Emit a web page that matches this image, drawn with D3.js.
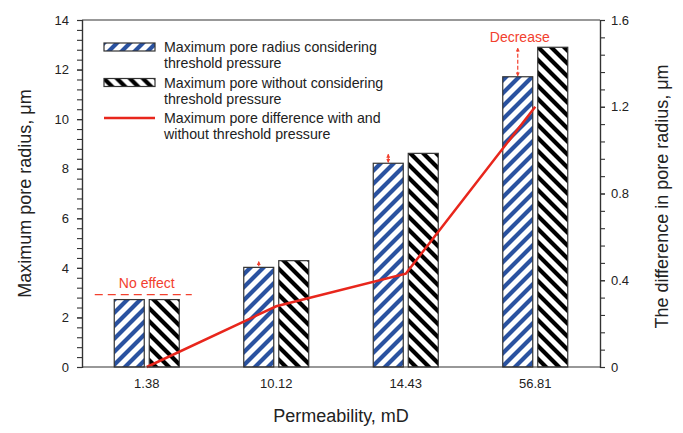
<!DOCTYPE html>
<html>
<head>
<meta charset="utf-8">
<script src="https://cdn.jsdelivr.net/npm/d3@7"></script>
<style>
  body { margin: 0; background: #fff; }
  svg { display: block; font-family: 'Liberation Sans', Arial, sans-serif; }
</style>
</head>
<body>
<svg id="chart" width="683" height="433"></svg>
<script>
/* data */
const permeability = ['1.38', '10.12', '14.43', '56.81'];
const withThreshold = [2.72, 4.02, 8.22, 11.71];
const withoutThreshold = [2.72, 4.29, 8.62, 12.9];
const poreDifference = [0, 0.28, 0.43, 1.2];
const leftTicks = [0, 2, 4, 6, 8, 10, 12, 14];
const rightTicks = [0, 0.4, 0.8, 1.2, 1.6];

const width = 683;
const height = 433;
const margin = { top: 20, right: 83, bottom: 66, left: 82 };
const innerW = width - margin.left - margin.right;
const innerH = height - margin.top - margin.bottom;

const blue = '#2a52a0';
const red = '#e8261c';
const annoRed = '#f2402e';
const textColor = '#222';

const svg = d3.select('#chart');

/* hatch patterns */
const defs = svg.append('defs');
function hatch(id, color, forward) {
  const s = 13;
  const p = defs.append('pattern')
    .attr('id', id)
    .attr('patternUnits', 'userSpaceOnUse')
    .attr('width', s)
    .attr('height', s);
  p.append('rect').attr('width', s).attr('height', s).attr('fill', '#fff');
  const d = forward
    ? `M-4,4 L4,-4 M0,${s} L${s},0 M${s - 4},${s + 4} L${s + 4},${s - 4}`
    : `M-4,${s - 4} L4,${s + 4} M0,0 L${s},${s} M${s - 4},-4 L${s + 4},4`;
  p.append('path').attr('d', d).attr('stroke', color).attr('stroke-width', 4.2);
}
hatch('hatchBlue', blue, true);
hatch('hatchBlack', '#000', false);

function arrowMarker(id, orient) {
  defs.append('marker')
    .attr('id', id)
    .attr('viewBox', '0 0 6 6')
    .attr('refX', 5)
    .attr('refY', 3)
    .attr('markerWidth', 4)
    .attr('markerHeight', 4)
    .attr('markerUnits', 'userSpaceOnUse')
    .attr('orient', orient)
    .append('path')
    .attr('d', 'M0,0 L6,3 L0,6 Z')
    .attr('fill', annoRed);
}
arrowMarker('arrowEnd', 'auto');
arrowMarker('arrowStart', 'auto-start-reverse');

const g = svg.append('g').attr('transform', `translate(${margin.left},${margin.top})`);

/* scales */
const x = d3.scaleBand().domain(permeability).range([0, innerW]).padding(0);
const yL = d3.scaleLinear().domain([0, 14]).range([innerH, 0]);
const yR = d3.scaleLinear().domain([0, 1.6]).range([innerH, 0]);
const barW = 30;
const barGap = 5;

/* bars */
const bars = g.append('g');
bars.selectAll('.bar-with')
  .data(permeability)
  .join('rect')
  .attr('class', 'bar-with')
  .attr('x', (d) => x(d) + x.bandwidth() / 2 - barGap / 2 - barW)
  .attr('y', (d, i) => yL(withThreshold[i]))
  .attr('width', barW)
  .attr('height', (d, i) => innerH - yL(withThreshold[i]))
  .attr('fill', 'url(#hatchBlue)')
  .attr('stroke', '#333')
  .attr('stroke-width', 1.2);
bars.selectAll('.bar-without')
  .data(permeability)
  .join('rect')
  .attr('class', 'bar-without')
  .attr('x', (d) => x(d) + x.bandwidth() / 2 + barGap / 2)
  .attr('y', (d, i) => yL(withoutThreshold[i]))
  .attr('width', barW)
  .attr('height', (d, i) => innerH - yL(withoutThreshold[i]))
  .attr('fill', 'url(#hatchBlack)')
  .attr('stroke', '#333')
  .attr('stroke-width', 1.2);

/* difference line */
const line = d3.line()
  .x((d, i) => x(permeability[i]) + x.bandwidth() / 2)
  .y((d) => yR(d));
g.append('path')
  .datum(poreDifference)
  .attr('d', line)
  .attr('fill', 'none')
  .attr('stroke', red)
  .attr('stroke-width', 2.5);

/* annotations */
const blueCenter = (i) => x(permeability[i]) + x.bandwidth() / 2 - barGap / 2 - barW / 2;
const groupCenter = (i) => x(permeability[i]) + x.bandwidth() / 2;

// no effect for the first group
g.append('line')
  .attr('x1', groupCenter(0) - 52)
  .attr('x2', groupCenter(0) + 45)
  .attr('y1', yL(withThreshold[0]) - 5)
  .attr('y2', yL(withThreshold[0]) - 5)
  .attr('stroke', annoRed)
  .attr('stroke-width', 1.3)
  .attr('stroke-dasharray', '8,5');
g.append('text')
  .attr('x', groupCenter(0))
  .attr('y', yL(withThreshold[0]) - 12)
  .attr('text-anchor', 'middle')
  .attr('fill', annoRed)
  .style('font-size', '14px')
  .text('No effect');

// arrows from the considered value up to the unconsidered one
[1, 2, 3].forEach((i) => {
  g.append('line')
    .attr('x1', blueCenter(i))
    .attr('x2', blueCenter(i))
    .attr('y1', yL(withThreshold[i]) - 1)
    .attr('y2', yL(withoutThreshold[i]) + 1)
    .attr('stroke', annoRed)
    .attr('stroke-width', 1.2)
    .attr('stroke-dasharray', i === 3 ? '4,2' : null)
    .attr('marker-end', 'url(#arrowEnd)')
    .attr('marker-start', i === 1 ? null : 'url(#arrowStart)');
});
g.append('text')
  .attr('x', blueCenter(3) + 2)
  .attr('y', yL(withoutThreshold[3]) - 5)
  .attr('text-anchor', 'middle')
  .attr('fill', annoRed)
  .style('font-size', '14px')
  .text('Decrease');

/* axes */
const axisL = g.append('g').call(
  d3.axisLeft(yL).tickValues(d3.range(0, 14.01, 0.4)).tickSize(5).tickFormat(''),
);
axisL.selectAll('.tick text').remove();
const axisLMajor = g.append('g').call(
  d3.axisLeft(yL).tickValues(leftTicks).tickSize(5).tickPadding(8),
);
const axisR = g.append('g').attr('transform', `translate(${innerW},0)`).call(
  d3.axisRight(yR).tickValues(d3.range(0, 1.601, 0.08)).tickSize(5).tickFormat(''),
);
const axisRMajor = g.append('g').attr('transform', `translate(${innerW},0)`).call(
  d3.axisRight(yR).tickValues(rightTicks).tickSize(5).tickPadding(6).tickFormat((d) => d3.format('.1~f')(d)),
);
const axisB = g.append('g').attr('transform', `translate(0,${innerH})`).call(
  d3.axisBottom(x).tickSize(0).tickPadding(12),
);
[axisL, axisLMajor, axisR, axisRMajor, axisB].forEach((a) => {
  a.selectAll('.domain').attr('stroke', '#333').attr('stroke-width', 1.2);
  a.selectAll('.tick line').attr('stroke', '#333').attr('stroke-width', 1.1);
  a.selectAll('.tick text').attr('fill', textColor).style('font-size', '13px');
});
axisB.select('.domain').attr('d', `M0,0H${innerW}`);

/* top frame line */
g.append('line')
  .attr('x1', 0).attr('x2', innerW)
  .attr('y1', 0).attr('y2', 0)
  .attr('stroke', '#333')
  .attr('stroke-width', 1.2);

/* axis titles */
svg.append('text')
  .attr('transform', `translate(31,${margin.top + innerH / 2}) rotate(-90)`)
  .attr('text-anchor', 'middle')
  .attr('fill', textColor)
  .style('font-size', '18px')
  .text('Maximum pore radius, μm');
svg.append('text')
  .attr('transform', `translate(668,${margin.top + innerH / 2 + 3}) rotate(-90)`)
  .attr('text-anchor', 'middle')
  .attr('fill', textColor)
  .style('font-size', '18px')
  .text('The difference in pore radius, μm');
svg.append('text')
  .attr('x', margin.left + innerW / 2)
  .attr('y', 422)
  .attr('text-anchor', 'middle')
  .attr('fill', textColor)
  .style('font-size', '18px')
  .text('Permeability, mD');

/* legend */
const legendItems = [
  { lines: ['Maximum pore radius considering', 'threshold pressure'], kind: 'hatchBlue' },
  { lines: ['Maximum pore without considering', 'threshold pressure'], kind: 'hatchBlack' },
  { lines: ['Maximum pore difference with and', 'without threshold pressure'], kind: 'line' },
];
const legend = svg.append('g').attr('transform', 'translate(104,43)');
legendItems.forEach((item, i) => {
  const row = legend.append('g').attr('transform', `translate(0,${i * 35.5})`);
  if (item.kind === 'line') {
    row.append('line')
      .attr('x1', 0).attr('x2', 51)
      .attr('y1', 4).attr('y2', 4)
      .attr('stroke', red)
      .attr('stroke-width', 2.5);
  } else {
    row.append('rect')
      .attr('width', 51)
      .attr('height', 8)
      .attr('fill', `url(#${item.kind})`)
      .attr('stroke', '#333')
      .attr('stroke-width', 1.2);
  }
  row.append('text')
    .attr('x', 60)
    .attr('y', 9)
    .attr('fill', textColor)
    .style('font-size', '14.2px')
    .selectAll('tspan')
    .data(item.lines)
    .join('tspan')
    .attr('x', 60)
    .attr('dy', (d, j) => (j === 0 ? 0 : 16))
    .text((d) => d);
});
</script>
</body>
</html>
